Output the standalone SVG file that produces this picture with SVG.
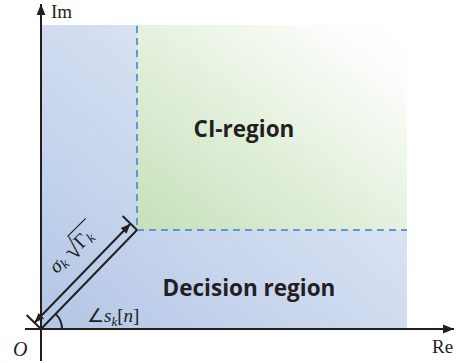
<svg xmlns="http://www.w3.org/2000/svg" width="458" height="363" viewBox="0 0 458 363">
<defs>
<linearGradient id="gBlue" x1="0" y1="1" x2="1" y2="0">
<stop offset="0" stop-color="#b3c6e6"/>
<stop offset="1" stop-color="#edf1f9"/>
</linearGradient>
<linearGradient id="gGreen" x1="0" y1="1" x2="1" y2="0">
<stop offset="0" stop-color="#c6e0b8"/>
<stop offset="0.85" stop-color="#fbfdfa"/>
<stop offset="1" stop-color="#ffffff"/>
</linearGradient>
<marker id="ah" viewBox="0 0 10 10" refX="10" refY="5" markerWidth="10" markerHeight="10" markerUnits="userSpaceOnUse" orient="auto-start-reverse">
<path d="M0,1 L10,5 L0,9 Z" fill="#231f20"/>
</marker>
<marker id="ax" viewBox="0 0 10 10" refX="10" refY="5" markerWidth="11" markerHeight="11" markerUnits="userSpaceOnUse" orient="auto">
<path d="M0,1 L10,5 L0,9 Z" fill="#231f20"/>
</marker>
<style>
.dash{fill:none;stroke:#5b9bd5;stroke-width:2;stroke-dasharray:7,5}
.ln{fill:none;stroke:#231f20;stroke-width:2}
.lbl{font-family:"Open Sans","Liberation Sans",sans-serif;font-weight:bold;font-size:22.5px;fill:#231f20;text-anchor:middle}
.mth{font-family:"Liberation Serif",serif;fill:#231f20}
</style>
</defs>
<g id="decision-region">
<rect x="41" y="25" width="366" height="304" fill="url(#gBlue)"/>
<text class="lbl" x="249" y="296">Decision region</text>
</g>
<g id="ci-region">
<rect x="137" y="25" width="270" height="205" fill="url(#gGreen)"/>
<path class="dash" d="M137,26 V230 H407"/>
<text class="lbl" x="244" y="137">CI-region</text>
</g>
<g id="connectors">
<line class="ln" x1="41" y1="361" x2="41" y2="4" marker-end="url(#ax)"/>
<line class="ln" x1="25" y1="329" x2="454" y2="329" marker-end="url(#ax)"/>
<line class="ln" x1="41" y1="329" x2="137" y2="230"/>
<line class="ln" x1="137" y1="230" x2="122.6" y2="216"/>
<line class="ln" x1="41" y1="329" x2="26.6" y2="315"/>
<line class="ln" x1="34.5" y1="322.7" x2="130.5" y2="223.7" marker-start="url(#ah)" marker-end="url(#ah)"/>
<path class="ln" d="M62,329 A21,21 0 0 0 55.6,313.9"/>
</g>
<g id="labels">
<text class="mth" x="51" y="18" font-size="19">Im</text>
<text class="mth" x="432" y="353" font-size="19">Re</text>
<text class="mth" x="13" y="356" font-size="20" font-style="italic">O</text>
<text class="mth" x="87" y="322" font-size="19"><tspan>∠</tspan><tspan font-style="italic">s</tspan><tspan font-style="italic" font-size="13" dy="4">k</tspan><tspan dy="-4">[</tspan><tspan font-style="italic">n</tspan><tspan>]</tspan></text>
<g transform="translate(73,248) rotate(-45)">
<text class="mth" x="-30" y="7" font-size="20"><tspan font-style="italic">σ</tspan><tspan font-style="italic" font-size="14" dy="3">k</tspan></text>
<text class="mth" x="-9" y="10" font-size="27">√</text>
<line x1="4" y1="-12" x2="30" y2="-12" stroke="#231f20" stroke-width="1.2"/>
<text class="mth" x="5" y="7" font-size="20"><tspan>Γ</tspan><tspan font-style="italic" font-size="14" dy="3">k</tspan></text>
</g>
</g>
</svg>
